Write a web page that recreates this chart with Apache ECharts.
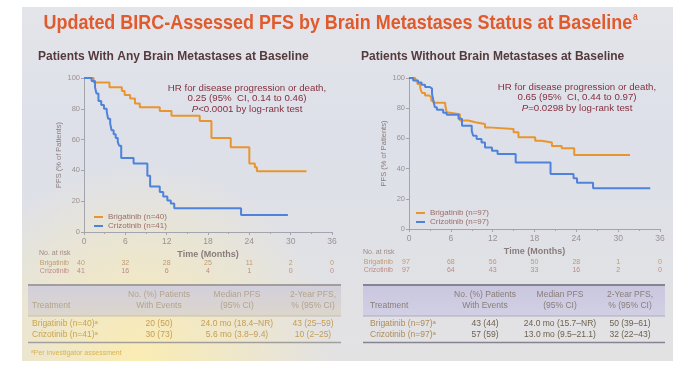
<!DOCTYPE html>
<html><head><meta charset="utf-8">
<script src="https://cdn.jsdelivr.net/npm/echarts@6/dist/echarts.min.js"></script>
<style>html,body{margin:0;padding:0;background:#fff}#c{width:692px;height:371px}</style>
</head><body><div id="c"></div>
<script>
// ---------- data ----------
const xTickMonths = [0, 6, 12, 18, 24, 30, 36];

const leftBrigT = [0, 1.4, 3.7, 5.5, 5.9, 6.7, 7.4, 8.1, 11.0, 12.7, 16.8, 18.5, 21.3, 24.0, 24.8, 25.1, 32.3];
const leftBrigS = [100, 97, 94, 91.5, 89, 86.7, 83.4, 81, 78.5, 75.5, 72, 61, 55, 44.5, 42, 39.5, 39.5];
const leftCrizT = [0, 1.1, 1.6, 1.8, 2.1, 2.5, 2.9, 3.3, 3.5, 3.8, 4.0, 4.3, 4.6, 4.9, 5.1, 5.4, 7.2, 9.2, 9.6, 11.0, 11.5, 12.1, 12.6, 13.1, 22.8, 29.6];
const leftCrizS = [100, 98, 94, 90, 85, 82.5, 80, 78, 73.5, 70.5, 66, 63.5, 61, 58.5, 56, 48, 44.5, 36.5, 29.5, 26, 23, 20.5, 18.5, 15.5, 11, 11];

const rightBrigT = [0, 0.9, 1.2, 1.6, 1.7, 1.9, 2.3, 2.9, 3.2, 3.5, 5.2, 5.4, 5.6, 7.3, 8.5, 9.5, 10.9, 11.4, 15.0, 15.7, 18.1, 19.0, 20.5, 21.9, 23.7, 31.7];
const rightBrigS = [100, 98.4, 96, 94, 92, 90, 88.4, 87.3, 85, 83.6, 81.8, 77.3, 76, 71.8, 70.7, 69.6, 67.3, 66.2, 64, 60.7, 58.4, 57.3, 55, 53.5, 49, 49];
const rightCrizT = [0, 0.6, 1.3, 1.8, 2.3, 3.0, 3.3, 3.5, 3.7, 4.0, 4.9, 5.4, 7.1, 7.6, 9.0, 9.2, 9.7, 10.4, 10.9, 11.9, 12.7, 15.3, 20.3, 23.6, 24.1, 26.4, 34.6];
const rightCrizS = [100, 98.4, 97, 95.5, 94, 93, 89.5, 85, 80.7, 79, 77, 75.6, 73, 68.4, 65, 61.8, 59.6, 57.3, 54, 51.8, 49.6, 44, 36.5, 33.6, 30.7, 27, 27];

const leftRiskBrig = [40, 32, 28, 25, 11, 2, 0];
const leftRiskCriz = [41, 16, 6, 4, 1, 0, 0];
const rightRiskBrig = [97, 68, 56, 50, 28, 1, 0];
const rightRiskCriz = [97, 64, 43, 33, 16, 2, 0];

const seriesNames = ['Brigatinib (n=40)', 'Crizotinib (n=41)', 'Brigatinib (n=97)', 'Crizotinib (n=97)'];

const tableHeader1 = ['', 'No. (%) Patients', 'Median PFS', '2-Year PFS,'];
const tableHeader2 = ['Treatment', 'With Events', '(95% CI)', '% (95% CI)'];
const leftTableLabels = ['Brigatinib (n=40)', 'Crizotinib (n=41)'];
const leftTableEvents = ['20 (50)', '30 (73)'];
const leftTableMedian = ['24.0 mo (18.4\u2013NR)', '5.6 mo (3.8\u20139.4)'];
const leftTable2yr = ['43 (25\u201359)', '10 (2\u201325)'];
const rightTableLabels = ['Brigatinib (n=97)', 'Crizotinib (n=97)'];
const rightTableEvents = ['43 (44)', '57 (59)'];
const rightTableMedian = ['24.0 mo (15.7\u2013NR)', '13.0 mo (9.5\u201321.1)'];
const rightTable2yr = ['50 (39\u201361)', '32 (22\u201343)'];

// ---------- chart ----------
const zip = (t, s) => t.map((v, i) => [v, s[i]]);
const ORANGE = '#e9952f', BLUE = '#4f82db';
const AX = '#a4a4ae', LBL = '#9c9090';
const FONT = 'Liberation Sans, Arial, sans-serif';

function xAx(gi) {
  return {
    type: 'value', gridIndex: gi, min: 0, max: 36, interval: 6,
    name: 'Time (Months)', nameLocation: 'middle', nameGap: 18,
    nameTextStyle: { color: '#8a7c7c', fontSize: 9, fontWeight: 'bold', fontFamily: FONT },
    axisLine: { lineStyle: { color: AX } },
    axisTick: { length: 3, lineStyle: { color: AX } },
    minorTick: { show: true, splitNumber: 2, length: 2, lineStyle: { color: AX } },
    axisLabel: { color: LBL, fontSize: 8.5, margin: 5, fontFamily: FONT },
    splitLine: { show: false }
  };
}
function yAx(gi) {
  return {
    type: 'value', gridIndex: gi, min: 0, max: 100, interval: 20,
    name: 'PFS (% of Patients)', nameLocation: 'middle', nameGap: 21,
    nameTextStyle: { color: '#8a7c7c', fontSize: 7.5, fontFamily: FONT },
    axisLine: { show: true, lineStyle: { color: AX } },
    axisTick: { show: true, length: 3, lineStyle: { color: AX } },
    axisLabel: { color: LBL, fontSize: 7.5, margin: 4, fontFamily: FONT },
    splitLine: { show: false }
  };
}
function km(name, gi, t, s, color) {
  return {
    name, type: 'line', step: 'end', xAxisIndex: gi, yAxisIndex: gi,
    data: zip(t, s), showSymbol: false, symbol: 'none', silent: true,
    lineStyle: { color, width: 2 }, itemStyle: { color }
  };
}

const chart = echarts.init(document.getElementById('c'), null, { renderer: 'canvas' });
chart.setOption({
  backgroundColor: '#ffffff',
  animation: false,
  grid: [
    { left: 84, top: 78, width: 248, height: 154 },
    { left: 409, top: 78, width: 251, height: 151 }
  ],
  xAxis: [xAx(0), xAx(1)],
  yAxis: [yAx(0), yAx(1)],
  legend: [
    { data: [seriesNames[0], seriesNames[1]], left: 89, top: 208, orient: 'vertical', icon: 'rect',
      itemWidth: 9, itemHeight: 2, itemGap: 1, selectedMode: false,
      textStyle: { fontSize: 8, color: '#9a6e6a', fontFamily: FONT } },
    { data: [seriesNames[2], seriesNames[3]], left: 411, top: 204, orient: 'vertical', icon: 'rect',
      itemWidth: 9, itemHeight: 2, itemGap: 1, selectedMode: false,
      textStyle: { fontSize: 8, color: '#9a6e6a', fontFamily: FONT } }
  ],
  series: [
    km(seriesNames[0], 0, leftBrigT, leftBrigS, ORANGE),
    km(seriesNames[1], 0, leftCrizT, leftCrizS, BLUE),
    km(seriesNames[2], 1, rightBrigT, rightBrigS, ORANGE),
    km(seriesNames[3], 1, rightCrizT, rightCrizS, BLUE)
  ]
});

// ---------- graphic: slide, titles, annotations, risk table, tables ----------
const G = [];
G.push({ type: 'rect', z: -20, shape: { x: 22, y: 7, width: 651, height: 354 },
  style: { fill: new echarts.graphic.LinearGradient(0, 0, 0, 1, [
    { offset: 0, color: '#e4e5ea' }, { offset: 0.35, color: '#dde0e9' }, { offset: 1, color: '#e3e2e3' }]) } });
G.push({ type: 'rect', z: -19, shape: { x: 22, y: 7, width: 651, height: 354 },
  style: { fill: new echarts.graphic.RadialGradient(0.18, 1.0, 0.55, [
    { offset: 0, color: 'rgba(255,238,170,0.85)' }, { offset: 1, color: 'rgba(255,238,170,0)' }]) } });

function txt(x, y, text, font, fill, align, extra) {
  G.push(Object.assign({ type: 'text', x, y, z: 10,
    style: Object.assign({ text, font, fill, textAlign: align || 'left', textVerticalAlign: 'middle' }, extra || {}) }));
}

// title
G.push({ type: 'text', x: 38, y: 23, z: 10, scaleX: 0.855, originX: 38, originY: 23,
  style: { text: 'Updated BIRC-Assessed PFS by Brain Metastases Status at Baseline{s|a}',
    font: 'bold 21px ' + FONT, fill: '#e05a2c', textVerticalAlign: 'middle',
    rich: { s: { font: 'bold 10px ' + FONT, fill: '#e05a2c', verticalAlign: 'top', padding: [0, 0, 10, 1] } } } });

// subtitles
txt(38, 57, 'Patients With Any Brain Metastases at Baseline', 'bold 12px ' + FONT, '#553a3c');
txt(361, 57, 'Patients Without Brain Metastases at Baseline', 'bold 12px ' + FONT, '#553a3c');

// HR annotations
const HRC = '#84303e';
const HF = '9.7px ' + FONT;
function hr(cx, y0, hrText, pText) {
  txt(cx, y0, 'HR for disease progression or death,', HF, HRC, 'center');
  txt(cx, y0 + 10.5, hrText, HF, HRC, 'center');
  G.push({ type: 'text', x: cx, y: y0 + 21, z: 10, style: { text: '{i|P}' + pText, font: HF, fill: HRC,
    textAlign: 'center', textVerticalAlign: 'middle', rich: { i: { font: 'italic ' + HF, fill: HRC } } } });
}
hr(247, 88, '0.25 (95%  CI, 0.14 to 0.46)', '<0.0001 by log-rank test');
hr(577, 87, '0.65 (95%  CI, 0.44 to 0.97)', '=0.0298 by log-rank test');

// No. at risk
const RB = '#c09a70', RC = '#c08a8a';
function risk(gi, labelX, topY, brig, criz) {
  txt(labelX - 30, topY, 'No. at risk', '7px ' + FONT, '#a08a88');
  txt(labelX, topY + 10, 'Brigatinib', '7px ' + FONT, RB, 'right');
  txt(labelX, topY + 18, 'Crizotinib', '7px ' + FONT, RC, 'right');
  xTickMonths.forEach((m, i) => {
    const px = chart.convertToPixel({ xAxisIndex: gi }, m) - (i === 0 ? 3 : 0);
    txt(px, topY + 10, String(brig[i]), '7px ' + FONT, RB, 'center');
    txt(px, topY + 18, String(criz[i]), '7px ' + FONT, RC, 'center');
  });
}
risk(0, 69, 253, leftRiskBrig, leftRiskCriz);
risk(1, 393, 252, rightRiskBrig, rightRiskCriz);

// tables
function table(x0, x1, colX, labels, events, median, yr2, pal) {
  G.push({ type: 'rect', z: 1, shape: { x: x0, y: 285, width: x1 - x0, height: 31 },
    style: { fill: new echarts.graphic.LinearGradient(0, 0, 0, 1, [
      { offset: 0, color: pal.band0 }, { offset: 1, color: pal.band1 }]) } });
  G.push({ type: 'line', z: 2, shape: { x1: x0, y1: 285, x2: x1, y2: 285 }, style: { stroke: pal.rule, lineWidth: 2 } });
  G.push({ type: 'line', z: 2, shape: { x1: x0, y1: 316, x2: x1, y2: 316 }, style: { stroke: pal.thin, lineWidth: 1 } });
  G.push({ type: 'line', z: 2, shape: { x1: x0, y1: 342.5, x2: x1, y2: 342.5 }, style: { stroke: pal.rule, lineWidth: 1.5 } });
  const hf = '8.5px ' + FONT;
  for (let c = 1; c < 4; c++) {
    txt(colX[c], 295, tableHeader1[c], hf, pal.head, 'center');
    txt(colX[c], 306, tableHeader2[c], hf, pal.head, 'center');
  }
  txt(colX[0], 306, tableHeader2[0], hf, pal.head, 'left');
  [323.5, 335].forEach((y, r) => {
    G.push({ type: 'text', x: colX[0], y, z: 10, style: { text: labels[r] + '{s|a}', font: hf, fill: pal.label,
      textVerticalAlign: 'middle', rich: { s: { font: '6px ' + FONT, fill: pal.label, verticalAlign: 'top' } } } });
    txt(colX[1], y, events[r], hf, pal.val, 'center');
    txt(colX[2], y, median[r], hf, pal.val, 'center');
    txt(colX[3], y, yr2[r], hf, pal.val, 'center');
  });
}
table(28, 341, [32, 159, 237, 313], leftTableLabels, leftTableEvents, leftTableMedian, leftTable2yr,
  { band0: '#d2cfdc', band1: '#dcd6cc', rule: '#a29e9c', thin: '#c8bfa8', head: '#b3a48a', label: '#c9a548', val: '#c49e52' });
table(363, 665, [370, 485, 560, 630], rightTableLabels, rightTableEvents, rightTableMedian, rightTable2yr,
  { band0: '#c9c6df', band1: '#d2d0e4', rule: '#868493', thin: '#aeaabd', head: '#8a7d76', label: '#ad8c56', val: '#6e6150' });
G.push({ type: 'text', x: 31, y: 353, z: 10, style: { text: '{s|a}Per investigator assessment', font: '7px ' + FONT,
  fill: '#d6b456', textVerticalAlign: 'middle', rich: { s: { font: '5px ' + FONT, fill: '#d6b456', verticalAlign: 'top' } } } });

chart.setOption({ graphic: G });
</script>
</body></html>
